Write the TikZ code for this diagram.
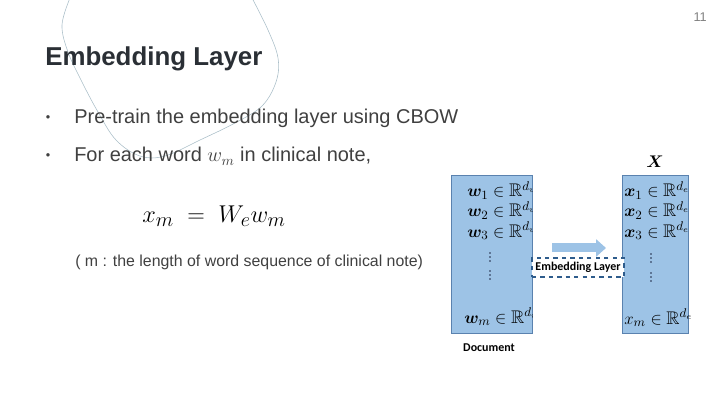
\documentclass[tikz,border=0pt]{standalone}
\usepackage{amsmath,amssymb,bm}
\usepackage{fontspec}
\setmainfont{Liberation Sans}
\newfontfamily\calibri{Carlito}
\usetikzlibrary{arrows.meta}
\definecolor{titlegray}{RGB}{42,47,53}
\definecolor{bodygray}{RGB}{64,64,64}
\definecolor{boxblue}{RGB}{157,195,230}
\definecolor{boxline}{RGB}{90,130,175}
\definecolor{dashblue}{RGB}{46,92,140}
\definecolor{swirl}{RGB}{170,190,200}
\definecolor{dotnavy}{RGB}{30,40,70}
\tikzset{
  docbox/.style={draw=boxline,fill=boxblue,line width=0.5pt,inner sep=0pt},
  bodytext/.style={anchor=base west,text=bodygray,inner sep=0pt,font=\fontsize{14.2}{16}\selectfont},
  vecrow/.style={anchor=base west,inner sep=0pt,font=\fontsize{13}{15}\selectfont},
  labeltext/.style={inner sep=0pt,font=\calibri\bfseries\fontsize{8.5}{10}\selectfont}
}
\begin{document}
\begin{tikzpicture}[x=0.025cm,y=-0.025cm]
\useasboundingbox (0,0) rectangle (720,405);
%\draw [help lines,step=20] (0,0) grid (720,405);
% decorative swirl
\draw[swirl,line width=0.4pt] plot[smooth,tension=0.6] coordinates
  {(70,-2) (62,25) (68,52) (82,82) (98,112) (116,140) (140,156) (165,156) (200,140) (235,123) (262,106) (276,82) (278,58) (268,30) (252,-2)};
% page number
\node[anchor=base east,text=gray,inner sep=0pt,font=\fontsize{9}{10}\selectfont] (pagenum) at (707,22) {11};
% title
\node[anchor=base west,text=titlegray,inner sep=0pt,font=\bfseries\fontsize{18.4}{20}\selectfont] (title) at (45,66) {Embedding Layer};
% bullets
\node[anchor=center,text=bodygray,inner sep=0pt,font=\fontsize{9}{10}\selectfont] (dotA) at (48,119) {\textbullet};
\node[bodytext] (itemA) at (74,124) {Pre-train the embedding layer using CBOW};
\node[anchor=center,text=bodygray,inner sep=0pt,font=\fontsize{9}{10}\selectfont] (dotB) at (48,157) {\textbullet};
\node[bodytext] (itemB) at (74,162) {For each word $w_m$ in clinical note,};
% equation
\node[anchor=base west,inner sep=0pt,font=\fontsize{19}{22}\selectfont] (eqn) at (142,223) {$x_m \;=\; W_e w_m$};
\node[anchor=base west,text=bodygray,inner sep=0pt,font=\fontsize{11.3}{13}\selectfont] (note) at (75,266) {( m : the length of word sequence of clinical note)};
% document box
\node[docbox,minimum width=2.025cm,minimum height=3.95cm] (doc) at (491.5,254) {};
\begin{scope}
\clip (doc.south west) rectangle (doc.north east);
\node[vecrow] (wA) at (467,197) {$\bm{w}_1 \in \mathbb{R}^{d_v}$};
\node[vecrow] (wB) at (467,217) {$\bm{w}_2 \in \mathbb{R}^{d_v}$};
\node[vecrow] (wC) at (467,237) {$\bm{w}_3 \in \mathbb{R}^{d_v}$};
\node[vecrow] (wM) at (464,323) {$\bm{w}_m \in \mathbb{R}^{d_v}$};
\end{scope}
\foreach \y in {253,257,261,271,275,279}
  \fill[dotnavy] (490,\y) circle (0.9);
\node[labeltext] (doclabel) at (489,348) {Document};
% embedded box
\node[docbox,minimum width=1.65cm,minimum height=3.95cm] (emb) at (655,254) {};
\node[vecrow] (xA) at (624,197) {$\bm{x}_1 \in \mathbb{R}^{d_e}$};
\node[vecrow] (xB) at (624,217) {$\bm{x}_2 \in \mathbb{R}^{d_e}$};
\node[vecrow] (xC) at (624,237) {$\bm{x}_3 \in \mathbb{R}^{d_e}$};
\node[vecrow] (xM) at (624,324) {$x_m \in \mathbb{R}^{d_e}$};
\foreach \y in {254,258,262,273,277,281}
  \fill[dotnavy] (651,\y) circle (0.9);
\node[inner sep=0pt,font=\fontsize{13}{15}\selectfont] (Xlabel) at (655,162) {$\bm{X}$};
% arrow and layer
\coordinate (arrS) at (552,248);
\coordinate (arrE) at (606,248);
\draw[boxblue,line width=6.4pt,-{Triangle[length=7pt,width=12pt]}] (arrS) -- (arrE);
\node[labeltext,draw=dashblue,dashed,line width=0.9pt,fill=white,minimum width=2.3cm,minimum height=0.47cm] (layer) at (578,267.5) {Embedding Layer};
\end{tikzpicture}
\end{document}
